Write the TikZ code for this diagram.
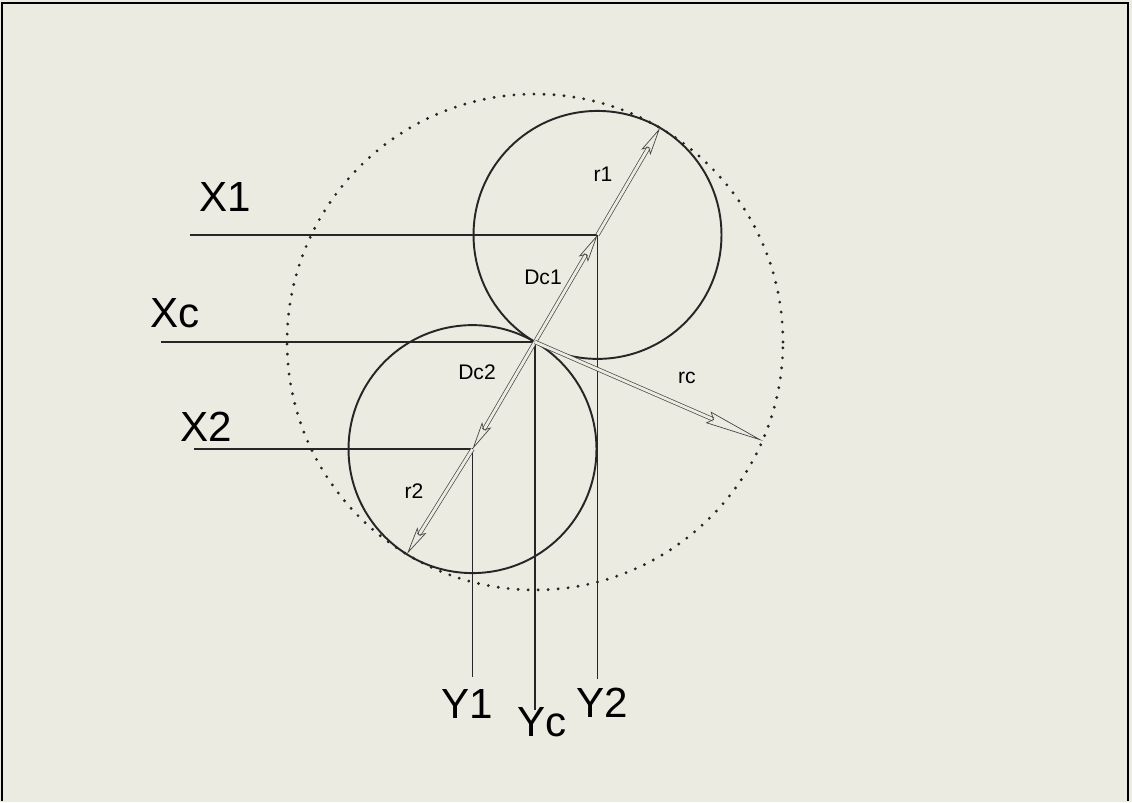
\documentclass[tikz,border=0pt]{standalone}
\usepackage{fontspec}
\setmainfont{Liberation Sans}
\usetikzlibrary{arrows.meta,calc}
\definecolor{paper}{RGB}{236,235,225}
\definecolor{inkgray}{RGB}{70,70,70}
\begin{document}
\begin{tikzpicture}[x=0.02cm, y=-0.02cm,
        circ/.style={draw=black!85, line width=1.1pt},
        guide/.style={draw=black!85, line width=1.1pt},
        bound/.style={draw=black!85, line width=1.8pt, line cap=round, dash pattern=on 0pt off 5.7pt},
        dimarrow/.style={draw=inkgray, line width=0.4pt, double=paper, double distance=1.6pt, -{Stealth[open, length=16pt, width=6pt, inset=3pt]}},
        axislabel/.style={font=\fontsize{24}{28}\selectfont, inner sep=0pt},
        dimlabel/.style={font=\fontsize{12}{14}\selectfont, inner sep=0pt}
    ]
    \fill[paper] (0,0) rectangle (1132,802);
    \useasboundingbox (0,0) rectangle (1132,802);
    \draw[line width=1.3pt] (2,801) -- (2,3) -- (1128,3) -- (1128,801);
    % centres and contact point
    \coordinate (Tc) at (535,342);
    \coordinate (C1) at (597.5,234.9);
    \coordinate (C2) at (472.5,449.1);
    \coordinate (r1end) at (660,128);
    \coordinate (r2end) at (407,554);
    \coordinate (rcend) at (763,441);
    \draw[bound] (Tc) circle[radius=4.96cm];
    \draw[circ] (C1) circle[radius=2.48cm];
    \draw[circ] (C2) circle[radius=2.48cm];
    % guide lines
    \coordinate (x1start) at (190,234.9);
    \coordinate (xcstart) at (161,342);
    \coordinate (x2start) at (194,449.1);
    \coordinate (y1end) at (472.5,677);
    \coordinate (ycend) at (535,710);
    \coordinate (y2end) at (597.5,679);
    \draw[guide] (x1start) -- (C1) -- (y2end);
    \draw[guide] (xcstart) -- (Tc) -- (ycend);
    \draw[guide] (x2start) -- (C2) -- (y1end);
    % labels
    \node[axislabel] (X1) at (225,197) {X1};
    \node[axislabel] (Xc) at (175,313) {Xc};
    \node[axislabel] (X2) at (206,427) {X2};
    \node[axislabel] (Y1) at (467,704) {Y1};
    \node[axislabel] (Yc) at (542,722) {Yc};
    \node[axislabel] (Y2) at (602,703) {Y2};
    \node[dimlabel] (r1) at (603,174) {r1};
    \node[dimlabel] (Dc1) at (543,277) {Dc1};
    \node[dimlabel] (Dc2) at (477,372) {Dc2};
    \node[dimlabel] (rc) at (687,378) {rc};
    \node[dimlabel] (r2) at (414,491) {r2};
    % dimension arrows
    \draw[dimarrow] (C1) -- (r1end);
    \draw[dimarrow] (Tc) -- (C1);
    \draw[dimarrow] (Tc) -- (C2);
    \draw[dimarrow] (C2) -- (r2end);
    \draw[dimarrow, -{Stealth[open, length=34pt, width=7pt, inset=3pt]}] (Tc) -- (rcend);
\end{tikzpicture}
\end{document}
